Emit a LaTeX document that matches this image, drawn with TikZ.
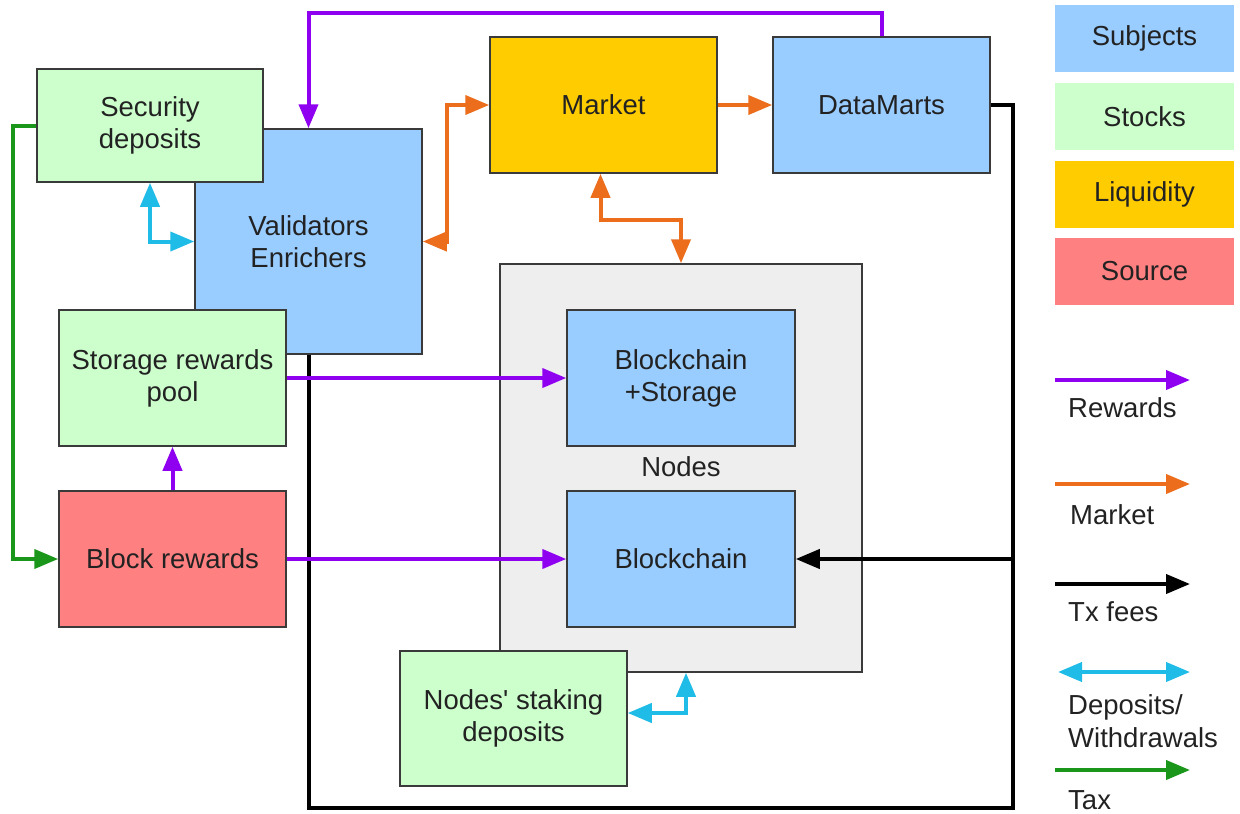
\documentclass[tikz,border=0pt]{standalone}
\usepackage{fontspec}
\setmainfont{Liberation Sans}[Ligatures=TeXOff]
\usetikzlibrary{arrows.meta}
\definecolor{subj}{HTML}{99CCFF}
\definecolor{stock}{HTML}{CCFFCC}
\definecolor{liq}{HTML}{FFCC00}
\definecolor{src}{HTML}{FF8080}
\definecolor{nodesbg}{HTML}{EEEEEE}
\definecolor{cpurple}{HTML}{8F00F0}
\definecolor{corange}{HTML}{EC6E1C}
\definecolor{ccyan}{HTML}{1EBCE6}
\definecolor{cgreen}{HTML}{1A961A}
\definecolor{txt}{HTML}{222222}
\definecolor{bord}{HTML}{3A3A3A}
\tikzset{
  box/.style={draw=bord, line width=1.5pt, inner sep=2pt, align=center, text=txt,
    font=\fontsize{27.5}{32}\selectfont},
  legbox/.style={inner sep=0pt, align=center, text=txt, minimum width=179pt, minimum height=67pt,
    font=\fontsize{27.5}{32}\selectfont},
  legtext/.style={anchor=west, align=left, text=txt, inner sep=0pt, font=\fontsize{27.5}{33}\selectfont},
  tip/.tip={Triangle[length=24pt,width=19pt]},
  flow/.style={line width=4pt, -tip},
  rew/.style={flow, draw=cpurple},
  mkt/.style={flow, draw=corange},
  tx/.style={flow, draw=black},
  dep/.style={flow, draw=ccyan},
  tax/.style={flow, draw=cgreen},
}
\begin{document}
\begin{tikzpicture}[x=1pt,y=-1pt]
\fill[white] (0,0) rectangle (1240,814);
\useasboundingbox (0,0) rectangle (1240,814);

% container
\node[draw=bord, line width=1.5pt, fill=nodesbg, minimum width=362pt, minimum height=408pt, inner sep=0pt] (N) at (681,468) {};
\node[text=txt, font=\fontsize{27.5}{32}\selectfont, inner sep=0pt] (NL) at (681,467) {Nodes};

% main boxes
\node[box, fill=subj, minimum width=227pt, minimum height=225pt] (V) at (308.5,241.5) {Validators\\Enrichers};
\node[box, fill=stock, minimum width=226pt, minimum height=113pt] (SD) at (150,125.5) {Security\\deposits};
\node[box, fill=stock, minimum width=227pt, minimum height=136pt] (SR) at (172.5,378) {Storage rewards\\pool};
\node[box, fill=src, minimum width=227pt, minimum height=136pt] (BR) at (172.5,559) {Block rewards};
\node[box, fill=liq, minimum width=227pt, minimum height=136pt] (M) at (603.5,105) {Market};
\node[box, fill=subj, minimum width=217pt, minimum height=136pt] (DM) at (881.5,105) {DataMarts};
\node[box, fill=subj, minimum width=228pt, minimum height=136pt] (BS) at (681,378) {Blockchain\\+Storage};
\node[box, fill=subj, minimum width=228pt, minimum height=136pt] (BC) at (681,559) {Blockchain};
\node[box, fill=stock, minimum width=227pt, minimum height=135pt] (ST) at (513.5,718.5) {Nodes' staking\\deposits};

% legend boxes
\node[legbox, fill=subj] (L1) at (1144.5,38.5) {Subjects};
\node[legbox, fill=stock] (L2) at (1144.5,116.5) {Stocks};
\node[legbox, fill=liq] (L3) at (1144.5,194.5) {Liquidity};
\node[legbox, fill=src] (L4) at (1144.5,271) {Source};

% tx fees (black)
\coordinate (txc) at (1013,808);
\coordinate (txm) at (1013,559);
\draw[line width=4pt] (DM.east) -| (txc) -| (V.south);
\draw[tx] (txm) -- (BC.east);

% rewards (purple)
\draw[rew] (DM.north) -- ++(0,-23) -| (V.north);
\draw[rew] (SR.east) -- (BS.west);
\draw[rew] (BR.east) -- (BC.west);
\draw[rew] (BR.north) -- (SR.south);

% market (orange)
\coordinate (vm) at (447,241.5);
\draw[mkt, tip-tip] (V.east) -- (vm) |- (M.west);
\draw[mkt] (M.east) -- (DM.west);
\draw[mkt, tip-tip] ([xshift=-3pt]M.south) -- ++(0,46) -| (N.north);

% tax (green)
\coordinate (tg) at (13,125.5);
\draw[tax] (SD.west) -- (tg) |- (BR.west);

% deposits (cyan)
\draw[dep, tip-tip] (SD.south) |- (V.west);
\draw[dep, tip-tip] ([yshift=5.5pt]ST.east) -| ([xshift=5pt]N.south);

% legend arrows
\coordinate (a1) at (1055,380); \coordinate (b1) at (1190,380);
\coordinate (a2) at (1055,484); \coordinate (b2) at (1190,484);
\coordinate (a3) at (1055,584); \coordinate (b3) at (1190,584);
\coordinate (a4) at (1058,672); \coordinate (b4) at (1190,672);
\coordinate (a5) at (1055,770); \coordinate (b5) at (1190,770);
\draw[rew] (a1) -- (b1);
\draw[mkt] (a2) -- (b2);
\draw[tx] (a3) -- (b3);
\draw[dep, tip-tip] (a4) -- (b4);
\draw[tax] (a5) -- (b5);
\node[legtext] (t1) at (1068,408) {Rewards};
\node[legtext] (t2) at (1070,515) {Market};
\node[legtext] (t3) at (1068,612) {Tx fees};
\node[legtext] (t4) at (1068,721) {Deposits/\\Withdrawals};
\node[legtext] (t5) at (1068,800) {Tax};
\end{tikzpicture}
\end{document}
